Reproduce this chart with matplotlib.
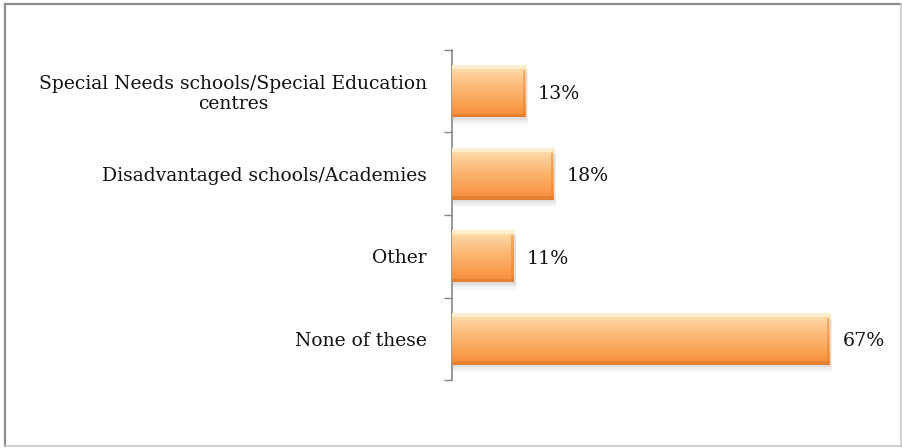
import numpy as np
import matplotlib.pyplot as plt
from matplotlib.colors import LinearSegmentedColormap
from matplotlib.patches import Rectangle
from matplotlib.lines import Line2D

# survey categories (top to bottom) and share of respondents, %
categories = ["Special Needs schools/Special Education\ncentres",
              "Disadvantaged schools/Academies",
              "Other",
              "None of these"]
values = [13, 18, 11, 67]
value_labels = ["13%", "18%", "11%", "67%"]

plt.rcParams['font.family'] = ['DejaVu Serif']

fig = plt.figure(figsize=(9.02, 4.48), dpi=100)
ax = fig.add_axes([452/902, (448-380)/448, (880-452)/902, 330/448])

pos = np.arange(len(categories))
bar_h = 0.63
bars = ax.barh(pos, values, height=bar_h, color='#F9A855', edgecolor='none', zorder=2)

# orange gradient, light on top, darker at the bottom
cmap = LinearSegmentedColormap.from_list('orange', ['#FDE3B4', '#FCC88C', '#FBB36D', '#F9A052', '#F58D38'])
grad = np.linspace(0, 1, 100).reshape(-1, 1)
for b in bars:
    x0, y0, w, h = b.get_x(), b.get_y(), b.get_width(), b.get_height()
    # soft drop shadow
    for k, a in enumerate([0.12, 0.08, 0.05]):
        ax.add_patch(Rectangle((x0 + 0.15, y0 + 0.03 * (k + 1)), w + 0.15 + k * 0.12, h,
                               facecolor='#7a7a7a', alpha=a, edgecolor='none', zorder=1))
    ax.imshow(grad, cmap=cmap, aspect='auto', extent=(x0, x0 + w, y0 + h, y0),
              interpolation='bilinear', zorder=3)
    # bevel edges
    ax.add_patch(Rectangle((x0 + w - 0.45, y0 + 0.06), 0.45, h - 0.06,
                           facecolor='#E07F2C', alpha=0.45, edgecolor='none', zorder=4))
    ax.add_patch(Rectangle((x0, y0 + h - 0.04), w, 0.04,
                           facecolor='#D9772A', alpha=0.6, edgecolor='none', zorder=4))
    ax.add_patch(Rectangle((x0, y0), w, 0.05,
                           facecolor='#FFF3D8', alpha=0.8, edgecolor='none', zorder=4))

for p, v, lab in zip(pos, values, value_labels):
    ax.text(v + 2.3, p + 0.03, lab, va='center', ha='left', fontsize=13.7, color='#111111')

ax.set_xlim(0, 76)
ax.set_ylim(3.5, -0.5)
ax.set_xticks([])
ax.set_yticks(pos)
ax.set_yticklabels(categories, fontsize=13.5, color='#111111', linespacing=1.15)
ax.set_yticks(np.arange(-0.5, 4, 1), minor=True)
ax.tick_params(axis='y', which='major', length=0, pad=18)
ax.tick_params(axis='y', which='minor', length=6, width=1, color='#868686', direction='out')
for lbl in ax.get_yticklabels():
    lbl.set_multialignment('center')
for s in ['top', 'right', 'bottom']:
    ax.spines[s].set_visible(False)
ax.spines['left'].set_color('#868686')
ax.spines['left'].set_linewidth(1.2)

# outer chart frame: darker top/left, lighter right/bottom
fw, fh = 902, 448
fig.add_artist(Line2D([4.5/fw, 4.5/fw], [2/fh, 444/fh], color='#8c8c8c', lw=1.6))
fig.add_artist(Line2D([4.5/fw, 900/fw], [444/fh, 444/fh], color='#8c8c8c', lw=1.6))
fig.add_artist(Line2D([900.5/fw, 900.5/fw], [2/fh, 444/fh], color='#c8c8c8', lw=1.2))
fig.add_artist(Line2D([4.5/fw, 900.5/fw], [2/fh, 2/fh], color='#c8c8c8', lw=1.2))

fig.savefig('out.png', dpi=100)
